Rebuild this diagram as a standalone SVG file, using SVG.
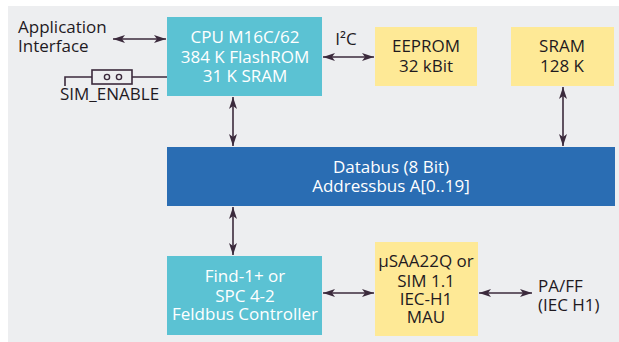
<svg xmlns="http://www.w3.org/2000/svg" width="619" height="342" viewBox="0 0 619 342">
<defs>
<marker id="ah" viewBox="0 0 12 8" refX="12" refY="4" markerWidth="12" markerHeight="8" markerUnits="userSpaceOnUse" orient="auto-start-reverse">
<path d="M0,0 L12,4 L0,8 L3,4 Z" fill="#3b2a3c"/>
</marker>
</defs>
<style>
text{font-family:"Open Sans","Noto Sans","Liberation Sans",sans-serif;font-size:17px;text-anchor:middle}
.w{fill:#ffffff}
.d{fill:#1f1a1f}
.cy{fill:#5bc2d3}
.ye{fill:#fee996}
.bl{fill:#2a6db3}
.c{stroke:#3b2a3c;stroke-width:1.6;fill:none;marker-start:url(#ah);marker-end:url(#ah)}
.ln{stroke:#3b2a3c;stroke-width:1.6;fill:none}
</style>
<rect x="8" y="6" width="611" height="336" fill="#edeef0"/>
<g id="cpu">
<rect class="cy" x="167" y="17" width="155" height="79"/>
<text class="w" x="245" y="43">CPU M16C/62</text>
<text class="w" x="245" y="63">384 K FlashROM</text>
<text class="w" x="245" y="82">31 K SRAM</text>
</g>
<g id="eeprom">
<rect class="ye" x="375" y="27" width="102" height="59"/>
<text class="d" x="426" y="52">EEPROM</text>
<text class="d" x="426" y="72">32 kBit</text>
</g>
<g id="sram">
<rect class="ye" x="511" y="27" width="103" height="59"/>
<text class="d" x="562" y="52">SRAM</text>
<text class="d" x="562" y="72">128 K</text>
</g>
<g id="bus">
<rect class="bl" x="167" y="147" width="448" height="59"/>
<text class="w" x="391" y="173">Databus (8 Bit)</text>
<text class="w" x="391" y="192">Addressbus A[0..19]</text>
</g>
<g id="find">
<rect class="cy" x="167" y="256" width="155" height="79"/>
<text class="w" x="245" y="282">Find-1+ or</text>
<text class="w" x="245" y="302">SPC 4-2</text>
<text class="w" x="245" y="320">Feldbus Controller</text>
</g>
<g id="mau">
<rect class="ye" x="375" y="242" width="103" height="94"/>
<text class="d" x="426" y="267">µSAA22Q or</text>
<text class="d" x="426" y="287">SIM 1.1</text>
<text class="d" x="426" y="305">IEC-H1</text>
<text class="d" x="426" y="323">MAU</text>
</g>
<g id="app">
<text class="d" x="18" y="33" style="text-anchor:start">Application</text>
<text class="d" x="18" y="52" style="text-anchor:start">Interface</text>
</g>
<g id="pa">
<text class="d" x="538" y="292" style="text-anchor:start">PA/FF</text>
<text class="d" x="538" y="311" style="text-anchor:start">(IEC H1)</text>
</g>
<g id="sim_enable">
<path class="ln" d="M65,86 V77 H92 M132,77 H167"/>
<rect x="92" y="70" width="40" height="14" fill="none" stroke="#3b2a3c" stroke-width="1.6"/>
<circle cx="107" cy="77" r="2.6" fill="none" stroke="#3b2a3c" stroke-width="1.4"/>
<circle cx="119" cy="77" r="2.6" fill="none" stroke="#3b2a3c" stroke-width="1.4"/>
<text class="d" x="60" y="100" style="text-anchor:start">SIM_ENABLE</text>
</g>
<g id="connectors">
<line class="c" x1="113" y1="39" x2="166" y2="39"/>
<line class="c" x1="323" y1="57" x2="374" y2="57"/>
<text class="d" x="346" y="45">I²C</text>
<line class="c" x1="233" y1="97" x2="233" y2="146"/>
<line class="c" x1="563" y1="87" x2="563" y2="146"/>
<line class="c" x1="233" y1="207" x2="233" y2="255"/>
<line class="c" x1="323" y1="293" x2="374" y2="293"/>
<line class="c" x1="479" y1="293" x2="532" y2="293"/>
</g>
</svg>
